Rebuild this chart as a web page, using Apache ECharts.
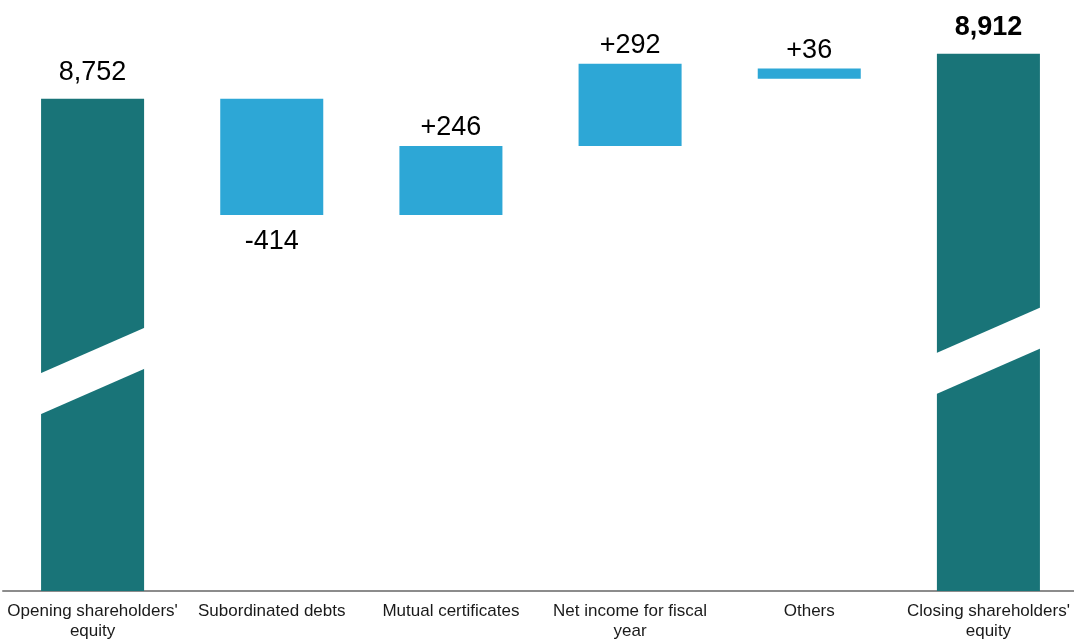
<!DOCTYPE html>
<html>
<head>
<meta charset="utf-8">
<script src="https://cdn.jsdelivr.net/npm/echarts@6/dist/echarts.min.js"></script>
<style>
html,body{margin:0;padding:0;background:#fff;}
#c{width:1074px;height:641px;}
</style>
</head>
<body>
<div id="c"></div>
<script>
const categories = ["Opening shareholders'\nequity", "Subordinated debts", "Mutual certificates", "Net income for fiscal\nyear", "Others", "Closing shareholders'\nequity"];
const values = [8752, -414, 246, 292, 36, 8912];
const kinds = ["total", "delta", "delta", "delta", "delta", "total"];
const valueLabels = ["8,752", "-414", "+246", "+292", "+36", "8,912"];
// lower end of each change bar (totals start at the axis)
const barLow = [null, 8338, 8338, 8584, 8823, null];
const axisMin = 7000;
const axisMax = 9000;

const FONT = "'Liberation Sans', Arial, Helvetica, sans-serif";
const DARK = "#197478";
const LIGHT = "#2da7d6";

const rows = values.map((v, i) => {
  if (kinds[i] === "total") return [i, axisMin, v, v];
  return [i, barLow[i], barLow[i] + Math.abs(v), v];
});

function renderItem(params, api) {
  const i = api.value(0);
  const low = api.value(1);
  const high = api.value(2);
  const v = api.value(3);
  const pTop = api.coord([i, high]);
  const pBot = api.coord([i, low]);
  const bw = api.size([1, 0])[0] * 0.575;
  const x0 = pTop[0] - bw / 2;
  const x1 = pTop[0] + bw / 2;
  const h = pBot[1] - pTop[1];
  const isTotal = kinds[i] === "total";
  const children = [{
    type: "rect",
    shape: { x: x0, y: pTop[1], width: bw, height: h },
    style: { fill: isTotal ? DARK : LIGHT }
  }];
  if (isTotal) {
    const c = pBot[1] - 0.447 * h;
    const slope = 23, half = 20.5;
    children.push({
      type: "polygon",
      shape: { points: [
        [x0 - 1, c + slope - half], [x1 + 1, c - slope - half],
        [x1 + 1, c - slope + half], [x0 - 1, c + slope + half]
      ] },
      style: { fill: "#ffffff" }
    });
  }
  let ty;
  if (isTotal) ty = pTop[1] - 26;
  else if (v < 0) ty = pBot[1] + 27;
  else ty = pTop[1] - 18;
  children.push({
    type: "text",
    x: pTop[0],
    y: ty,
    style: {
      text: valueLabels[i],
      fill: "#000",
      fontSize: 27,
      fontFamily: FONT,
      fontWeight: (i === values.length - 1) ? "bold" : "normal",
      align: "center",
      verticalAlign: "middle"
    }
  });
  return { type: "group", children };
}

const chart = echarts.init(document.getElementById("c"), null, { renderer: "canvas" });
chart.setOption({
  animation: false,
  backgroundColor: "#fff",
  grid: { left: 3, right: -4, top: 29, bottom: 50, outerBoundsMode: "none", containLabel: false },
  xAxis: {
    type: "category",
    data: categories,
    axisLine: { show: true, lineStyle: { color: "#8c8c8c", width: 2 } },
    axisTick: { show: false },
    axisLabel: { color: "#1a1a1a", fontSize: 17, fontFamily: FONT, lineHeight: 20, margin: 10, interval: 0 },
    splitLine: { show: false }
  },
  yAxis: {
    type: "value",
    min: axisMin,
    max: axisMax,
    show: false,
    splitLine: { show: false }
  },
  series: [{
    type: "custom",
    renderItem: renderItem,
    encode: { x: 0, y: [1, 2] },
    data: rows,
    clip: false
  }]
});
</script>
</body>
</html>
